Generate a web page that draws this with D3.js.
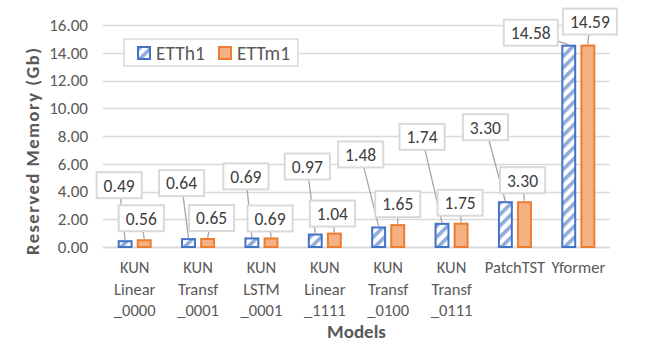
<!DOCTYPE html>
<html>
<head>
<meta charset="utf-8">
<script src="https://cdn.jsdelivr.net/npm/d3@7"></script>
<style>
  body { margin: 0; background: #fff; }
  text { font-family: Calibri, Carlito, "Liberation Sans", sans-serif; }
</style>
</head>
<body>
<div class="chart"></div>
<script>
// MEMORY BAR CHART
const categories = [
	['KUN', 'Linear', '_0000'],
	['KUN', 'Transf', '_0001'],
	['KUN', 'LSTM', '_0001'],
	['KUN', 'Linear', '_1111'],
	['KUN', 'Transf', '_0100'],
	['KUN', 'Transf', '_0111'],
	['PatchTST'],
	['Yformer']
];
const seriesNames = ['ETTh1', 'ETTm1'];
const etth1 = [0.49, 0.64, 0.69, 0.97, 1.48, 1.74, 3.30, 14.58];
const ettm1 = [0.56, 0.65, 0.69, 1.04, 1.65, 1.75, 3.30, 14.59];
const yTicks = [0, 2, 4, 6, 8, 10, 12, 14, 16];

// label offsets (px) from bar top-center, picked by hand to match the callouts
const labelOffsets = [
	[[-6, -55], [-3, -21]],
	[[-7, -55], [4, -20]],
	[[-6, -61], [-1, -19]],
	[[-8, -67], [-2, -19]],
	[[-18, -72], [0, -20]],
	[[-20, -86], [-1, -20]],
	[[-20, -74], [-2, -21]],
	[[-38, -12], [2, -23]]
];

const margin = { top: 25, right: 35, bottom: 112, left: 103 };
const W = 645, H = 359;
const width = W - margin.left - margin.right;
const height = H - margin.top - margin.bottom;

const svg = d3.select('.chart')
	.append('svg')
		.attr('width', W)
		.attr('height', H);

const defs = svg.append('defs');
const pat = defs.append('pattern')
	.attr('id', 'hatch')
	.attr('patternUnits', 'userSpaceOnUse')
	.attr('width', 8)
	.attr('height', 8)
	.attr('patternTransform', 'rotate(45)');
pat.append('rect').attr('width', 8).attr('height', 8).attr('fill', '#fff');
pat.append('rect').attr('width', 3.6).attr('height', 8).attr('fill', '#8faadc');

const g = svg.append('g')
	.attr('transform', `translate(${margin.left}, ${margin.top})`);

const x0 = d3.scaleBand()
	.domain(d3.range(categories.length))
	.range([0, width]);

const x1 = d3.scaleBand()
	.domain(seriesNames)
	.range([x0.bandwidth() / 2 - 17, x0.bandwidth() / 2 + 17])
	.paddingInner(0.22);

const y = d3.scaleLinear()
	.domain([0, 16])
	.range([height, 0]);

// gridlines
g.append('g')
	.selectAll('line')
	.data(yTicks)
	.enter()
	.append('line')
		.attr('x1', 0)
		.attr('x2', width)
		.attr('y1', d => Math.round(y(d)) + 0.5)
		.attr('y2', d => Math.round(y(d)) + 0.5)
		.style('stroke', '#d9d9d9')
		.style('stroke-width', d => d === 0 ? 2 : 1.3);

// y axis labels
const yAxis = g.append('g')
	.call(d3.axisLeft(y).tickValues(yTicks).tickFormat(d3.format('.2f')).tickSize(0).tickPadding(15));
yAxis.select('.domain').remove();
yAxis.selectAll('text')
	.style('font-size', '17px')
	.style('fill', '#595959');

// bars
const data = categories.map((c, i) => ({ i, values: [etth1[i], ettm1[i]] }));

const groups = g.selectAll('.grp')
	.data(data)
	.enter()
	.append('g')
		.attr('class', 'grp')
		.attr('transform', d => `translate(${x0(d.i)}, 0)`);

groups.selectAll('rect')
	.data(d => d.values.map((v, s) => ({ v, s, i: d.i })))
	.enter()
	.append('rect')
		.attr('x', d => x1(seriesNames[d.s]) + 1)
		.attr('width', x1.bandwidth() - 2)
		.attr('y', d => y(d.v) + 1)
		.attr('height', d => Math.max(0, height - y(d.v) - 1))
		.style('fill', d => d.s === 0 ? 'url(#hatch)' : '#f4b183')
		.style('stroke', d => d.s === 0 ? '#4472c4' : '#ed7d31')
		.style('stroke-width', 2);

// data labels with leader lines
const labels = [];
data.forEach(d => {
	d.values.forEach((v, s) => {
		const bx = x0(d.i) + x1(seriesNames[s]) + x1.bandwidth() / 2;
		const by = y(v);
		const off = labelOffsets[d.i][s];
		labels.push({ v, s, bx, by, lx: bx + off[0], ly: by + off[1] });
	});
});

const fmt = d3.format('.2f');
const lblLayer = g.append('g');

lblLayer.selectAll('line')
	.data(labels)
	.enter()
	.append('line')
		.attr('x1', d => d.lx)
		.attr('y1', d => d.ly)
		.attr('x2', d => d.bx)
		.attr('y2', d => d.by)
		.style('stroke', '#a6a6a6')
		.style('stroke-width', 1.3);

const lbl = lblLayer.selectAll('.lbl')
	.data(labels)
	.enter()
	.append('g')
		.attr('class', 'lbl')
		.attr('transform', d => `translate(${d.lx}, ${d.ly})`);

lbl.append('text')
	.attr('text-anchor', 'middle')
	.attr('dy', '0.36em')
	.style('font-size', '17.5px')
	.style('fill', '#404040')
	.text(d => fmt(d.v));

lbl.each(function() {
	const grp = d3.select(this);
	const bb = grp.select('text').node().getBBox();
	grp.insert('rect', 'text')
		.attr('x', bb.x - 7)
		.attr('y', -13)
		.attr('width', bb.width + 14)
		.attr('height', 26)
		.style('fill', '#fff')
		.style('stroke', '#d9d9d9')
		.style('stroke-width', 2);
});

// x axis labels
const xl = g.append('g')
	.selectAll('text')
	.data(categories)
	.enter()
	.append('text')
		.attr('x', (d, i) => x0(i) + x0.bandwidth() / 2)
		.attr('y', height + 26)
		.attr('text-anchor', 'middle')
		.style('font-size', '16.5px')
		.style('fill', '#595959');

xl.selectAll('tspan')
	.data(d => d)
	.enter()
	.append('tspan')
		.attr('x', function() { return d3.select(this.parentNode).attr('x'); })
		.attr('dy', (d, i) => i === 0 ? 0 : 21.5)
		.text(d => d);

// axis titles
g.append('text')
	.attr('x', width / 2)
	.attr('y', height + 91)
	.attr('text-anchor', 'middle')
	.style('font-size', '19px')
	.style('font-weight', 'bold')
	.style('fill', '#595959')
	.text('Models');

// y title: spans from just below the zero line up to the 14 gridline
svg.append('text')
	.attr('transform', 'translate(39, 255) rotate(-90)')
	.attr('text-anchor', 'start')
	.attr('textLength', 207)
	.attr('lengthAdjust', 'spacing')
	.style('font-size', '18.5px')
	.style('font-weight', 'bold')
	.style('fill', '#595959')
	.text('Reserved Memory (Gb)');

// legend
const legend = svg.append('g')
	.attr('transform', 'translate(124, 39)');

legend.append('rect')
	.attr('width', 174)
	.attr('height', 27)
	.style('fill', '#fff')
	.style('stroke', '#d9d9d9')
	.style('stroke-width', 1.5);

const li = legend.selectAll('.li')
	.data(seriesNames)
	.enter()
	.append('g')
		.attr('class', 'li')
		.attr('transform', (d, i) => `translate(${i === 0 ? 14 : 95}, 8)`);

li.append('rect')
	.attr('width', 12)
	.attr('height', 12)
	.style('fill', (d, i) => i === 0 ? 'url(#hatch)' : '#f4b183')
	.style('stroke', (d, i) => i === 0 ? '#4472c4' : '#ed7d31')
	.style('stroke-width', 2);

li.append('text')
	.attr('x', 18)
	.attr('y', 6)
	.attr('dy', '0.36em')
	.style('font-size', '19.5px')
	.style('fill', '#595959')
	.text(d => d);
</script>
</body>
</html>
